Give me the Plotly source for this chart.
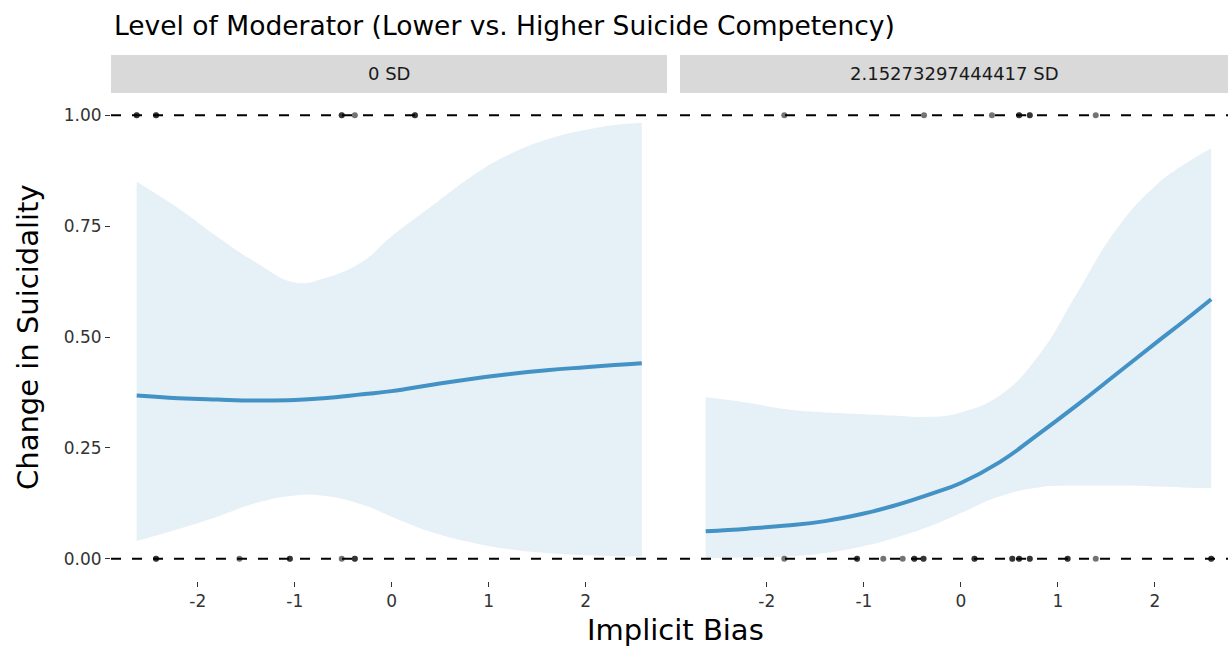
import plotly.graph_objects as go

# ---------------- data ----------------
PANELS = ["0 SD", "2.15273297444417 SD"]
X_GRID = [-2.63, -2.2, -1.8, -1.4, -1.0, -0.7, -0.3, 0.0, 0.4, 0.8, 1.2, 1.6, 2.0, 2.3, 2.58]

FIT_LOW = [0.368, 0.362, 0.359, 0.357, 0.358, 0.362, 0.371, 0.378, 0.392, 0.405, 0.416, 0.425, 0.432, 0.437, 0.441]
UPPER_LOW = [0.850, 0.790, 0.726, 0.668, 0.623, 0.632, 0.670, 0.727, 0.793, 0.858, 0.910, 0.945, 0.967, 0.978, 0.983]
LOWER_LOW = [0.040, 0.067, 0.095, 0.126, 0.143, 0.142, 0.122, 0.095, 0.061, 0.038, 0.022, 0.013, 0.008, 0.006, 0.005]

FIT_HIGH = [0.062, 0.068, 0.075, 0.085, 0.102, 0.119, 0.147, 0.171, 0.218, 0.281, 0.347, 0.416, 0.485, 0.536, 0.585]
UPPER_HIGH = [0.364, 0.352, 0.337, 0.330, 0.326, 0.323, 0.320, 0.330, 0.368, 0.458, 0.600, 0.742, 0.840, 0.889, 0.925]
LOWER_HIGH = [0.002, 0.003, 0.005, 0.013, 0.029, 0.046, 0.075, 0.103, 0.141, 0.161, 0.165, 0.165, 0.163, 0.161, 0.159]

# observed implicit-bias scores at outcome = 1 / outcome = 0 (repeats = overlapping observations)
OBS1_LOW = [-2.63, -2.63, -2.43, -2.43, -0.515, -0.515, -0.38, 0.24, 0.24]
OBS0_LOW = [-2.43, -2.43, -1.57, -1.05, -1.05, -0.515, -0.38, -0.38]
OBS1_HIGH = [-1.82, -0.38, 0.32, 0.60, 0.60, 0.71, 0.71, 1.39]
OBS0_HIGH = [-1.82, -1.07, -1.07, -0.80, -0.60, -0.48, -0.48, -0.385, -0.385,
             0.14, 0.14, 0.53, 0.53, 0.60, 0.60, 0.71, 0.71, 1.10, 1.10, 1.39, 2.58, 2.58]

X_TICKS = [-2, -1, 0, 1, 2]
X_TICK_TEXT = ["-2", "-1", "0", "1", "2"]
Y_TICKS = [0, 0.25, 0.5, 0.75, 1.0]
Y_TICK_TEXT = ["0.00", "0.25", "0.50", "0.75", "1.00"]
OUTCOME_LEVELS = [0, 1]

TITLE = "Level of Moderator (Lower vs. Higher Suicide Competency)"
X_TITLE = "Implicit Bias"
Y_TITLE = "Change in Suicidality"

# ---------------- style / layout ----------------
W, H = 1228, 648
FONT = "DejaVu Sans"
LINE_COL = "#4292c6"
BAND_COL = "#e6f0f7"
STRIP_COL = "#d9d9d9"
SMOOTH = 1.3

XR_LEFT = [-2.895, 2.84]
XR_RIGHT = [-2.895, 2.753]
YR = [-0.05, 1.05]

def fx(px):
    return px / W

def fy(py):
    return 1 - py / H

PANEL_TOP, PANEL_BOT = 93, 581
STRIP_TOP = 55
DOM_Y = [fy(PANEL_BOT), fy(PANEL_TOP)]
DOM_X1 = [fx(111), fx(667)]
DOM_X2 = [fx(680), 1.0]

fig = go.Figure()

panels = [
    ("x", "y", XR_LEFT, FIT_LOW, UPPER_LOW, LOWER_LOW, OBS1_LOW, OBS0_LOW),
    ("x2", "y2", XR_RIGHT, FIT_HIGH, UPPER_HIGH, LOWER_HIGH, OBS1_HIGH, OBS0_HIGH),
]

for xa, ya, xr, fit, up, lo, obs1, obs0 in panels:
    fig.add_trace(go.Scatter(x=X_GRID, y=lo, xaxis=xa, yaxis=ya, mode="lines",
                             line=dict(width=0, shape="spline", smoothing=SMOOTH, color=BAND_COL),
                             hoverinfo="skip", showlegend=False))
    fig.add_trace(go.Scatter(x=X_GRID, y=up, xaxis=xa, yaxis=ya, mode="lines",
                             line=dict(width=0, shape="spline", smoothing=SMOOTH, color=BAND_COL),
                             fill="tonexty", fillcolor=BAND_COL,
                             hoverinfo="skip", showlegend=False))
    fig.add_trace(go.Scatter(x=X_GRID, y=fit, xaxis=xa, yaxis=ya, mode="lines",
                             line=dict(width=4, shape="spline", smoothing=SMOOTH, color=LINE_COL),
                             showlegend=False))
    for lev in OUTCOME_LEVELS:
        fig.add_trace(go.Scatter(x=xr, y=[lev, lev], xaxis=xa, yaxis=ya, mode="lines",
                                 line=dict(width=2, color="black", dash="10px,11px"),
                                 hoverinfo="skip", showlegend=False))
    for lev, obs in ((1, obs1), (0, obs0)):
        fig.add_trace(go.Scatter(x=obs, y=[lev] * len(obs), xaxis=xa, yaxis=ya, mode="markers",
                                 marker=dict(size=6, color="black", opacity=0.55,
                                             line=dict(width=0)),
                                 showlegend=False))

tickfont = dict(family=FONT, size=17, color="#333333")
common_x = dict(tickvals=X_TICKS, ticktext=X_TICK_TEXT, ticks="outside", ticklen=5,
                tickwidth=1.2, tickcolor="#333333", showgrid=False, zeroline=False,
                showline=False, tickfont=tickfont, fixedrange=True)

fig.update_layout(
    width=W, height=H,
    margin=dict(l=0, r=0, t=0, b=0),
    paper_bgcolor="white", plot_bgcolor="white",
    showlegend=False,
    xaxis=dict(domain=DOM_X1, range=XR_LEFT, anchor="y", **common_x),
    xaxis2=dict(domain=DOM_X2, range=XR_RIGHT, anchor="y2", **common_x),
    yaxis=dict(domain=DOM_Y, range=YR, anchor="x", tickvals=Y_TICKS, ticktext=Y_TICK_TEXT,
               ticks="outside", ticklen=5, tickwidth=1.2, tickcolor="#333333",
               showgrid=False, zeroline=False, showline=False, tickfont=tickfont),
    yaxis2=dict(domain=DOM_Y, range=YR, anchor="x2", showticklabels=False, ticks="",
                showgrid=False, zeroline=False, showline=False),
)

# strips
for dom, label in ((DOM_X1, PANELS[0]), (DOM_X2, PANELS[1])):
    fig.add_shape(type="rect", xref="paper", yref="paper",
                  x0=dom[0], x1=dom[1], y0=fy(PANEL_TOP), y1=fy(STRIP_TOP),
                  fillcolor=STRIP_COL, line=dict(width=0), layer="below")
    fig.add_annotation(text=label, xref="paper", yref="paper",
                       x=(dom[0] + dom[1]) / 2, y=fy((PANEL_TOP + STRIP_TOP) / 2),
                       xanchor="center", yanchor="middle", showarrow=False,
                       font=dict(family=FONT, size=18, color="#1a1a1a"))

# titles
fig.add_annotation(text=TITLE, xref="paper", yref="paper", x=fx(112), y=fy(26),
                   xanchor="left", yanchor="middle", showarrow=False,
                   font=dict(family=FONT, size=26.5, color="black"))
fig.add_annotation(text=X_TITLE, xref="paper", yref="paper", x=fx(675), y=fy(630),
                   xanchor="center", yanchor="middle", showarrow=False,
                   font=dict(family=FONT, size=29, color="black"))
fig.add_annotation(text=Y_TITLE, xref="paper", yref="paper", x=fx(28), y=fy(337),
                   xanchor="center", yanchor="middle", showarrow=False, textangle=-90,
                   font=dict(family=FONT, size=29, color="black"))

fig.write_html("out.html", config={"displayModeBar": False})
